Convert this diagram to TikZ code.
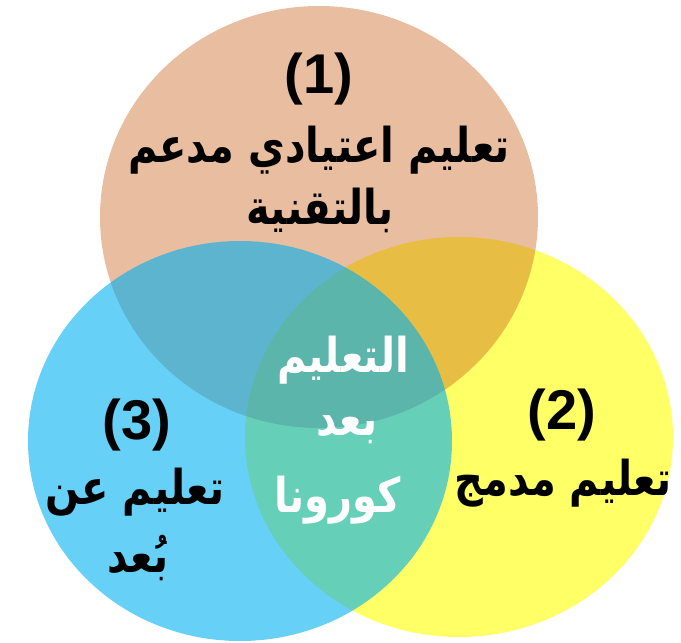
\documentclass[tikz,border=0pt]{standalone}
\usepackage{graphicx}
\usepackage{fontspec}
\setmainfont{Liberation Sans}
\newfontfamily\arabicfont[Script=Arabic]{DejaVu Sans}
\TeXXeTstate=1
\definecolor{topc}{HTML}{C55A11}
\definecolor{yelc}{HTML}{FFFF66}
\definecolor{bluec}{HTML}{00B0F0}
\newcommand{\artxt}[1]{\scalebox{1}[1.2]{\beginR #1\endR}}
\tikzset{
  numlabel/.style={inner sep=0pt, font=\fontsize{56}{60}\selectfont\bfseries, text=black},
  arlabel/.style={inner sep=0pt, font=\arabicfont\fontsize{40}{44}\selectfont\bfseries, text=black},
  arwhite/.style={arlabel, text=white}
}
\begin{document}
\begin{tikzpicture}[x=1pt,y=-1pt]
\useasboundingbox (0,0) rectangle (681,643);
\fill[yelc] (459,437) ellipse [x radius=214pt, y radius=200pt];
\fill[topc, fill opacity=0.4] (319,217) ellipse [x radius=219pt, y radius=211pt];
\fill[bluec, fill opacity=0.6] (240,441) ellipse [x radius=212pt, y radius=200pt];
\node[numlabel] (n1) at (319,79) {(1)};
\node[arlabel] (t1a) at (319,150) {\artxt{تعليم اعتيادي مدعم}};
\node[arlabel] (t1b) at (320,210) {\artxt{بالتقنية}};
\node[numlabel] (n2) at (562,415) {(2)};
\node[arlabel] (t2a) at (563,483) {\artxt{تعليم مدمج}};
\node[numlabel] (n3) at (137,425) {(3)};
\node[arlabel] (t3a) at (135,492) {\artxt{تعليم عن}};
\node[arlabel] (t3b) at (138,558) {\artxt{بُعد}};
\node[arwhite] (c1) at (343,360) {\artxt{التعليم}};
\node[arwhite] (c2) at (347,430) {\artxt{بعد}};
\node[arwhite] (c3) at (338,500) {\artxt{كورونا}};
\end{tikzpicture}
\end{document}
